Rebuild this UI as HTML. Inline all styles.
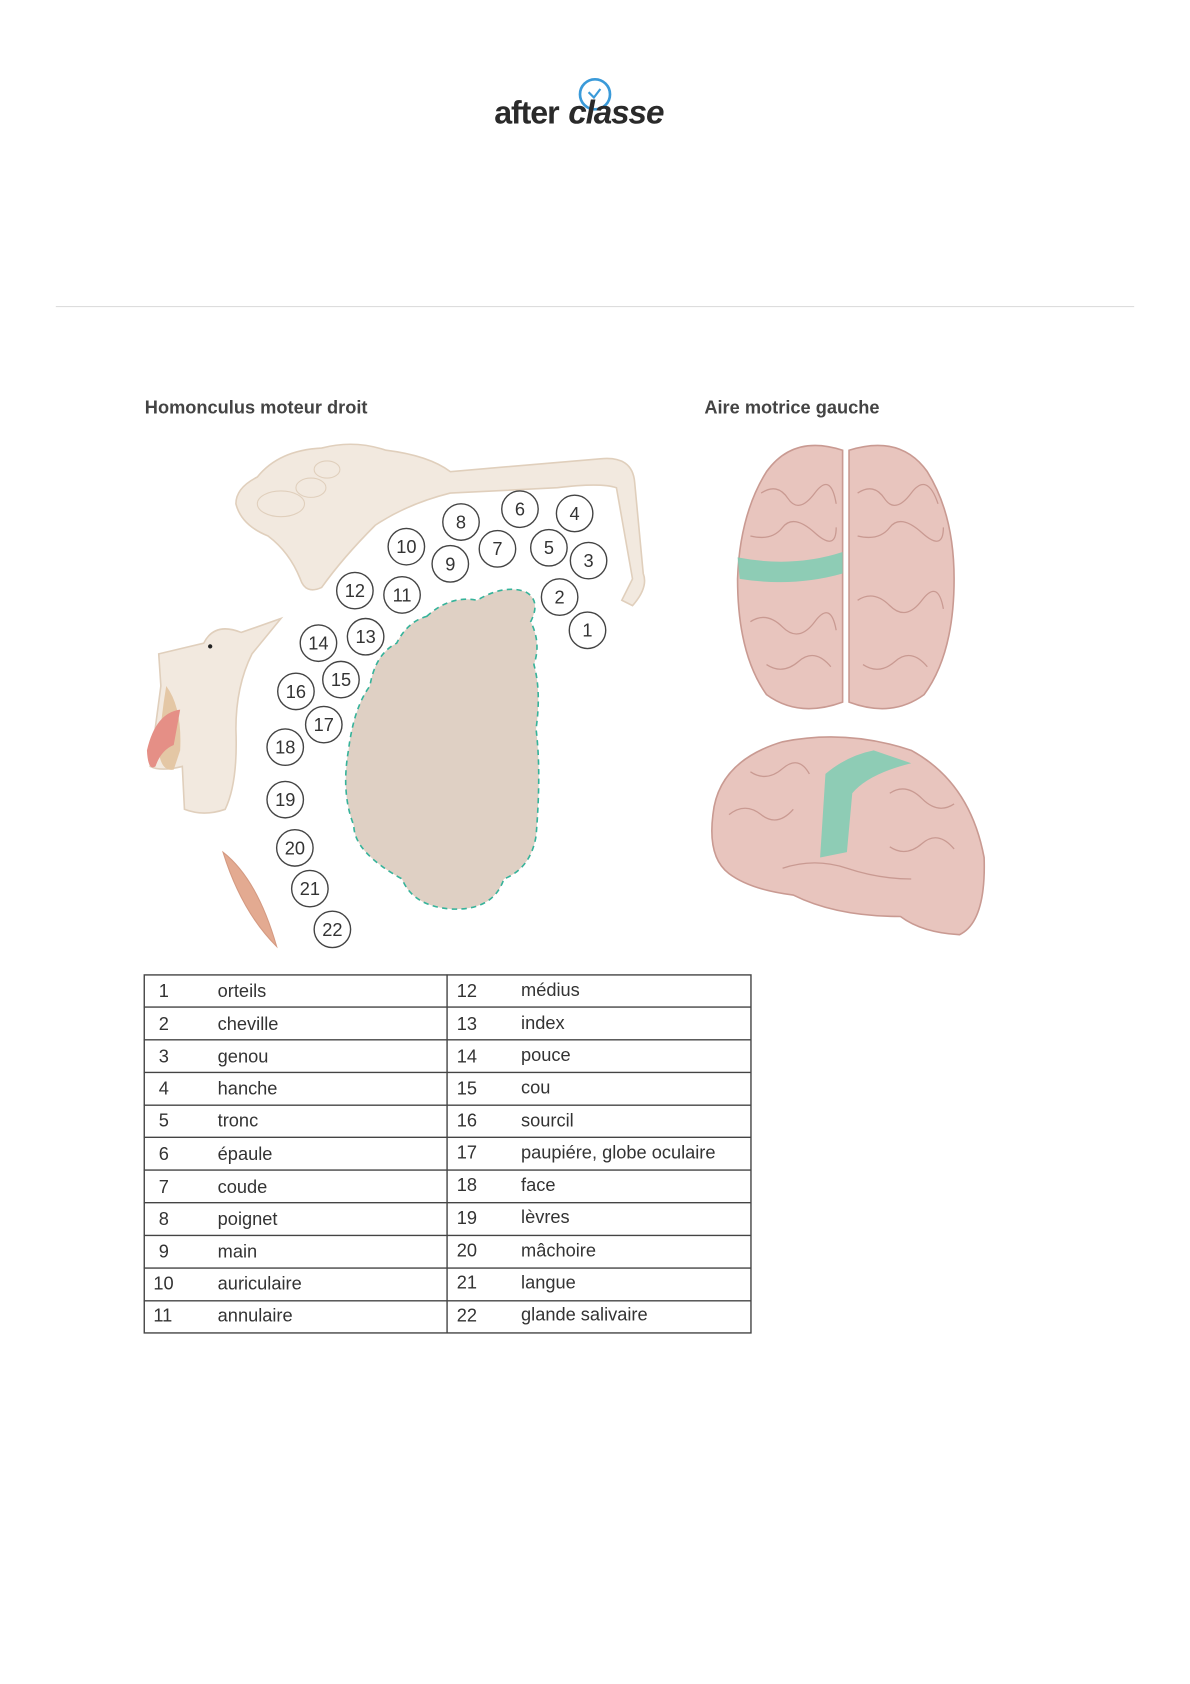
<!DOCTYPE html>
<html><head><meta charset="utf-8"><style>
html,body{margin:0;padding:0;background:#fff}
svg{display:block}
text{font-family:"Liberation Sans",sans-serif}
</style></head><body>
<svg width="1190" height="1684" viewBox="0 0 1110 1571" xmlns="http://www.w3.org/2000/svg">
<!-- logo -->
<circle cx="555" cy="88" r="14" fill="none" stroke="#3a9ad9" stroke-width="2.5"/>
<path d="M549 86 l5 5 l6 -8" fill="none" stroke="#3a9ad9" stroke-width="2"/>
<text x="461" y="115" font-size="30" font-weight="bold" fill="#2a2a2a" letter-spacing="-1">after</text>
<text x="530" y="115" font-size="31" font-weight="bold" font-style="italic" fill="#2a2a2a" letter-spacing="-1">classe</text>
<line x1="52" y1="286" x2="1058" y2="286" stroke="#ddd" stroke-width="1"/>
<text x="135" y="386" font-size="17" font-weight="bold" fill="#444">Homonculus moteur droit</text>
<text x="657" y="386" font-size="17" font-weight="bold" fill="#444">Aire motrice gauche</text>

<!-- arm/hand -->
<path d="M240 445 Q260 420 300 418 Q330 410 360 420 Q400 425 420 440 L560 428 Q590 425 592 450 L600 535 Q605 548 590 565 L580 560 L590 540 L575 455 Q560 450 520 455 L420 460 Q380 470 350 490 Q320 520 300 548 Q285 555 280 540 Q270 515 250 500 Q225 490 220 470 Q220 455 240 445Z" fill="#f2e9df" stroke="#e0cfbc" stroke-width="1.5"/>
<ellipse cx="262" cy="470" rx="22" ry="12" fill="none" stroke="#e0cfbc"/>
<ellipse cx="290" cy="455" rx="14" ry="9" fill="none" stroke="#e0cfbc"/>
<ellipse cx="305" cy="438" rx="12" ry="8" fill="none" stroke="#e0cfbc"/>
<!-- face -->
<path d="M148 610 L190 600 Q200 580 225 590 L262 577 L235 610 Q220 640 220 680 Q222 730 210 755 Q190 762 172 755 L170 715 Q150 720 140 715 L150 640 Z" fill="#f2e9df" stroke="#e0cfbc" stroke-width="1.5"/>
<path d="M155 640 Q170 660 168 700 L162 718 Q150 720 148 700 Q150 670 155 640Z" fill="#e4c7a5"/>
<path d="M168 662 Q145 665 137 700 Q138 720 145 715 Q150 700 162 695 Z" fill="#e58f86"/>
<circle cx="196" cy="603" r="2" fill="#222"/>
<!-- feather -->
<path d="M208 795 Q240 820 258 883 Q225 850 208 795Z" fill="#e3aa91" stroke="#d49a82"/>
<!-- cortex slice -->
<path d="M398 575 Q420 555 445 560 Q470 545 490 552 Q505 560 495 580 Q505 600 498 620 Q505 645 500 680 Q505 720 500 780 Q495 810 470 820 Q460 850 420 848 Q385 845 375 820 Q330 795 330 770 Q318 740 325 700 Q330 660 345 640 Q350 610 370 600 Q380 580 398 575Z" fill="#dfd0c4" stroke="#36b39a" stroke-width="1.5" stroke-dasharray="5,4"/>
<!-- circles -->
<g fill="#fff" stroke="#444" stroke-width="1.3">
<circle cx="430" cy="487" r="17"/><circle cx="485" cy="475" r="17"/><circle cx="536" cy="479" r="17"/><circle cx="379" cy="510" r="17"/><circle cx="464" cy="512" r="17"/><circle cx="512" cy="511" r="17"/><circle cx="549" cy="523" r="17"/><circle cx="420" cy="526" r="17"/><circle cx="331" cy="551" r="17"/><circle cx="375" cy="555" r="17"/><circle cx="522" cy="557" r="17"/><circle cx="548" cy="588" r="17"/><circle cx="297" cy="600" r="17"/><circle cx="341" cy="594" r="17"/><circle cx="318" cy="634" r="17"/><circle cx="276" cy="645" r="17"/><circle cx="302" cy="676" r="17"/><circle cx="266" cy="697" r="17"/><circle cx="266" cy="746" r="17"/><circle cx="275" cy="791" r="17"/><circle cx="289" cy="829" r="17"/><circle cx="310" cy="867" r="17"/>
</g>
<g font-size="17" fill="#333" text-anchor="middle">
<text x="430" y="493">8</text><text x="485" y="481">6</text><text x="536" y="485">4</text><text x="379" y="516">10</text><text x="464" y="518">7</text><text x="512" y="517">5</text><text x="549" y="529">3</text><text x="420" y="532">9</text><text x="331" y="557">12</text><text x="375" y="561">11</text><text x="522" y="563">2</text><text x="548" y="594">1</text><text x="297" y="606">14</text><text x="341" y="600">13</text><text x="318" y="640">15</text><text x="276" y="651">16</text><text x="302" y="682">17</text><text x="266" y="703">18</text><text x="266" y="752">19</text><text x="275" y="797">20</text><text x="289" y="835">21</text><text x="310" y="873">22</text>
</g>

<!-- top brain -->
<path d="M786 420 Q740 405 715 440 Q690 480 688 540 Q688 610 715 648 Q745 670 786 655Z" fill="#e8c5be" stroke="#c99a92" stroke-width="1.5"/>
<path d="M792 420 Q840 405 865 440 Q890 480 890 540 Q890 610 862 648 Q832 670 792 655Z" fill="#e8c5be" stroke="#c99a92" stroke-width="1.5"/>
<path d="M688 520 Q740 530 786 515 L786 535 Q740 548 690 540Z" fill="#7ecdb4" opacity="0.85"/>
<g fill="none" stroke="#c99a92" stroke-width="1.2">
<path d="M710 460 q15 -10 25 5 t25 -5 t20 10"/><path d="M700 500 q20 5 30 -8 t30 5 t20 -5"/><path d="M700 580 q15 -10 30 5 t30 -5 t20 8"/><path d="M715 620 q15 10 30 -3 t30 5"/>
<path d="M800 460 q15 -10 25 5 t25 -5 t25 10"/><path d="M800 500 q20 5 30 -8 t30 5 t20 -5"/><path d="M800 560 q15 -10 30 5 t30 -5 t20 8"/><path d="M805 620 q15 10 30 -3 t30 5"/>
</g>
<!-- side brain -->
<path d="M665 760 Q670 710 730 692 Q790 680 850 700 Q905 730 918 800 Q920 860 895 872 Q860 870 840 855 Q780 855 740 835 Q700 830 680 815 Q660 800 665 760Z" fill="#e8c5be" stroke="#c99a92" stroke-width="1.5"/>
<path d="M770 722 Q790 705 815 700 L850 712 Q810 722 795 740 L790 795 L765 800 Z" fill="#7ecdb4" opacity="0.85"/>
<g fill="none" stroke="#c99a92" stroke-width="1.2">
<path d="M680 760 q15 -12 30 0 t30 -5"/><path d="M700 720 q15 10 30 -3 t25 5"/><path d="M830 740 q15 -10 30 5 t30 5"/><path d="M830 790 q15 10 30 -3 t30 5"/><path d="M730 810 q30 -10 60 0 t60 10"/>
</g>

<!-- table -->
<g stroke="#444" stroke-width="1.3" fill="none">
<rect x="134.5" y="909.5" width="566" height="334"/>
<line x1="417" y1="909" x2="417" y2="1244"/>
<line x1="134" y1="939.5" x2="701" y2="939.5"/><line x1="134" y1="970" x2="701" y2="970"/><line x1="134" y1="1000.5" x2="701" y2="1000.5"/><line x1="134" y1="1031" x2="701" y2="1031"/><line x1="134" y1="1061" x2="701" y2="1061"/><line x1="134" y1="1091.5" x2="701" y2="1091.5"/><line x1="134" y1="1122" x2="701" y2="1122"/><line x1="134" y1="1152.5" x2="701" y2="1152.5"/><line x1="134" y1="1183" x2="701" y2="1183"/><line x1="134" y1="1213.5" x2="701" y2="1213.5"/>
</g>
<g font-size="17" fill="#333">
<text x="148" y="930">1</text><text x="203" y="930">orteils</text><text x="426" y="930">12</text><text x="486" y="929">médius</text>
<text x="148" y="961">2</text><text x="203" y="961">cheville</text><text x="426" y="961">13</text><text x="486" y="960">index</text>
<text x="148" y="991">3</text><text x="203" y="991">genou</text><text x="426" y="991">14</text><text x="486" y="990">pouce</text>
<text x="148" y="1021">4</text><text x="203" y="1021">hanche</text><text x="426" y="1021">15</text><text x="486" y="1020">cou</text>
<text x="148" y="1051">5</text><text x="203" y="1051">tronc</text><text x="426" y="1051">16</text><text x="486" y="1051">sourcil</text>
<text x="148" y="1082">6</text><text x="203" y="1082">épaule</text><text x="426" y="1081">17</text><text x="486" y="1081">paupiére, globe oculaire</text>
<text x="148" y="1113">7</text><text x="203" y="1113">coude</text><text x="426" y="1111">18</text><text x="486" y="1111">face</text>
<text x="148" y="1143">8</text><text x="203" y="1143">poignet</text><text x="426" y="1142">19</text><text x="486" y="1141">lèvres</text>
<text x="148" y="1173">9</text><text x="203" y="1173">main</text><text x="426" y="1172">20</text><text x="486" y="1172">mâchoire</text>
<text x="143" y="1203">10</text><text x="203" y="1203">auriculaire</text><text x="426" y="1202">21</text><text x="486" y="1202">langue</text>
<text x="143" y="1233">11</text><text x="203" y="1233">annulaire</text><text x="426" y="1233">22</text><text x="486" y="1232">glande salivaire</text>
</g>
</svg>
</body></html>
